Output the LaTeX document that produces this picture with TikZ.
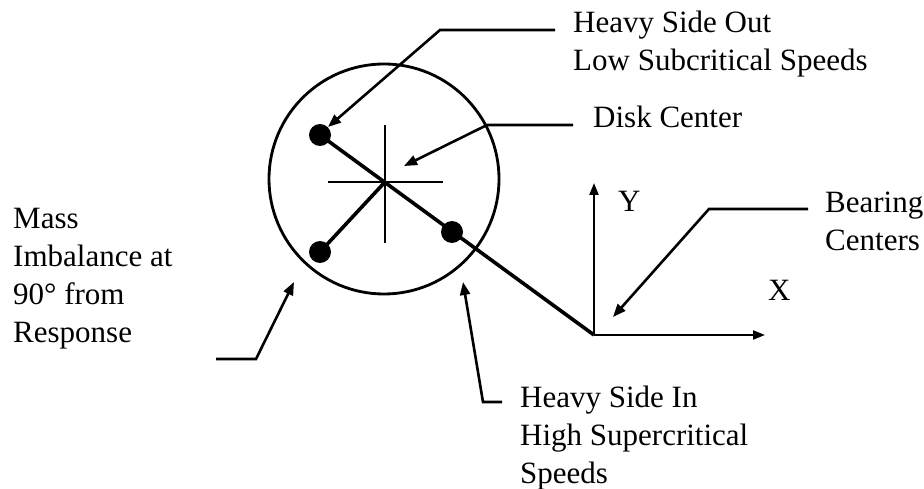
\documentclass[tikz,border=0pt]{standalone}
\usepackage{fontspec}
\setmainfont{Liberation Serif}
\usetikzlibrary{arrows.meta, positioning, calc}
\newcommand{\lblfont}{\fontsize{31}{38}\selectfont}

\begin{document}
\begin{tikzpicture}[x=1pt, y=-1pt,
    txt/.style={font=\lblfont, align=left, anchor=base west, inner sep=0pt},
    leader/.style={-{Triangle[length=13pt,width=10pt]}, line width=2.6pt},
    axis/.style={-{Triangle[length=12pt,width=9pt]}, line width=2.2pt},
    shaft/.style={line width=3.6pt},
    dot/.style={circle, fill=black, inner sep=0pt, minimum size=22pt}
]
\useasboundingbox (0,0) rectangle (924,489);

\coordinate (c)  at (385,182);
\coordinate (o)  at (594,335);
\coordinate (tl) at (320,135);
\coordinate (bl) at (320,252);
\coordinate (rt) at (452,232);

\draw[line width=2.8pt] (384,179) circle (115);
\draw[line width=2.2pt] (328,182) -- (443,182);
\draw[line width=2.2pt] (385,125) -- (385,243);

\draw[shaft] (tl) -- (o);
\draw[shaft] (c) -- (bl);
\node[dot] (tldot) at (tl) {};
\node[dot] (bldot) at (bl) {};
\node[dot] (rtdot) at (rt) {};

\coordinate (ytip) at (594,183);
\coordinate (xtip) at (765,335);
\draw[axis] (o) -- (ytip);
\draw[axis] (o) -- (xtip);
\node[txt] (ylbl) at (618,212) {Y};
\node[txt] (xlbl) at (768,300) {X};

% multi-line labels sit on the baseline of their last line
\node[txt] (hsout)   at (573,71)  {Heavy Side Out\\Low Subcritical Speeds};
\node[txt] (disk)    at (593,128) {Disk Center};
\node[txt] (bearing) at (825,251) {Bearing\\Centers};
\node[txt] (mass)    at (13,342)  {Mass\\Imbalance at\\90° from\\Response};
\node[txt] (hsin)    at (520,483) {Heavy Side In\\High Supercritical\\Speeds};

\coordinate (hsout-tip) at (328,127);
\coordinate (disk-tip)  at (404,166);
\coordinate (bear-tip)  at (613,317);
\coordinate (mass-tip)  at (294,282);
\coordinate (hsin-tip)  at (463,282);

\draw[leader] (555,30)  -- (440,30)  -- (hsout-tip);
\draw[leader] (573,125) -- (487,125) -- (disk-tip);
\draw[leader] (808,209) -- (709,209) -- (bear-tip);
\draw[leader] (216,359) -- (256,359) -- (mass-tip);
\draw[leader] (502,402) -- (483,402) -- (hsin-tip);
\end{tikzpicture}
\end{document}
